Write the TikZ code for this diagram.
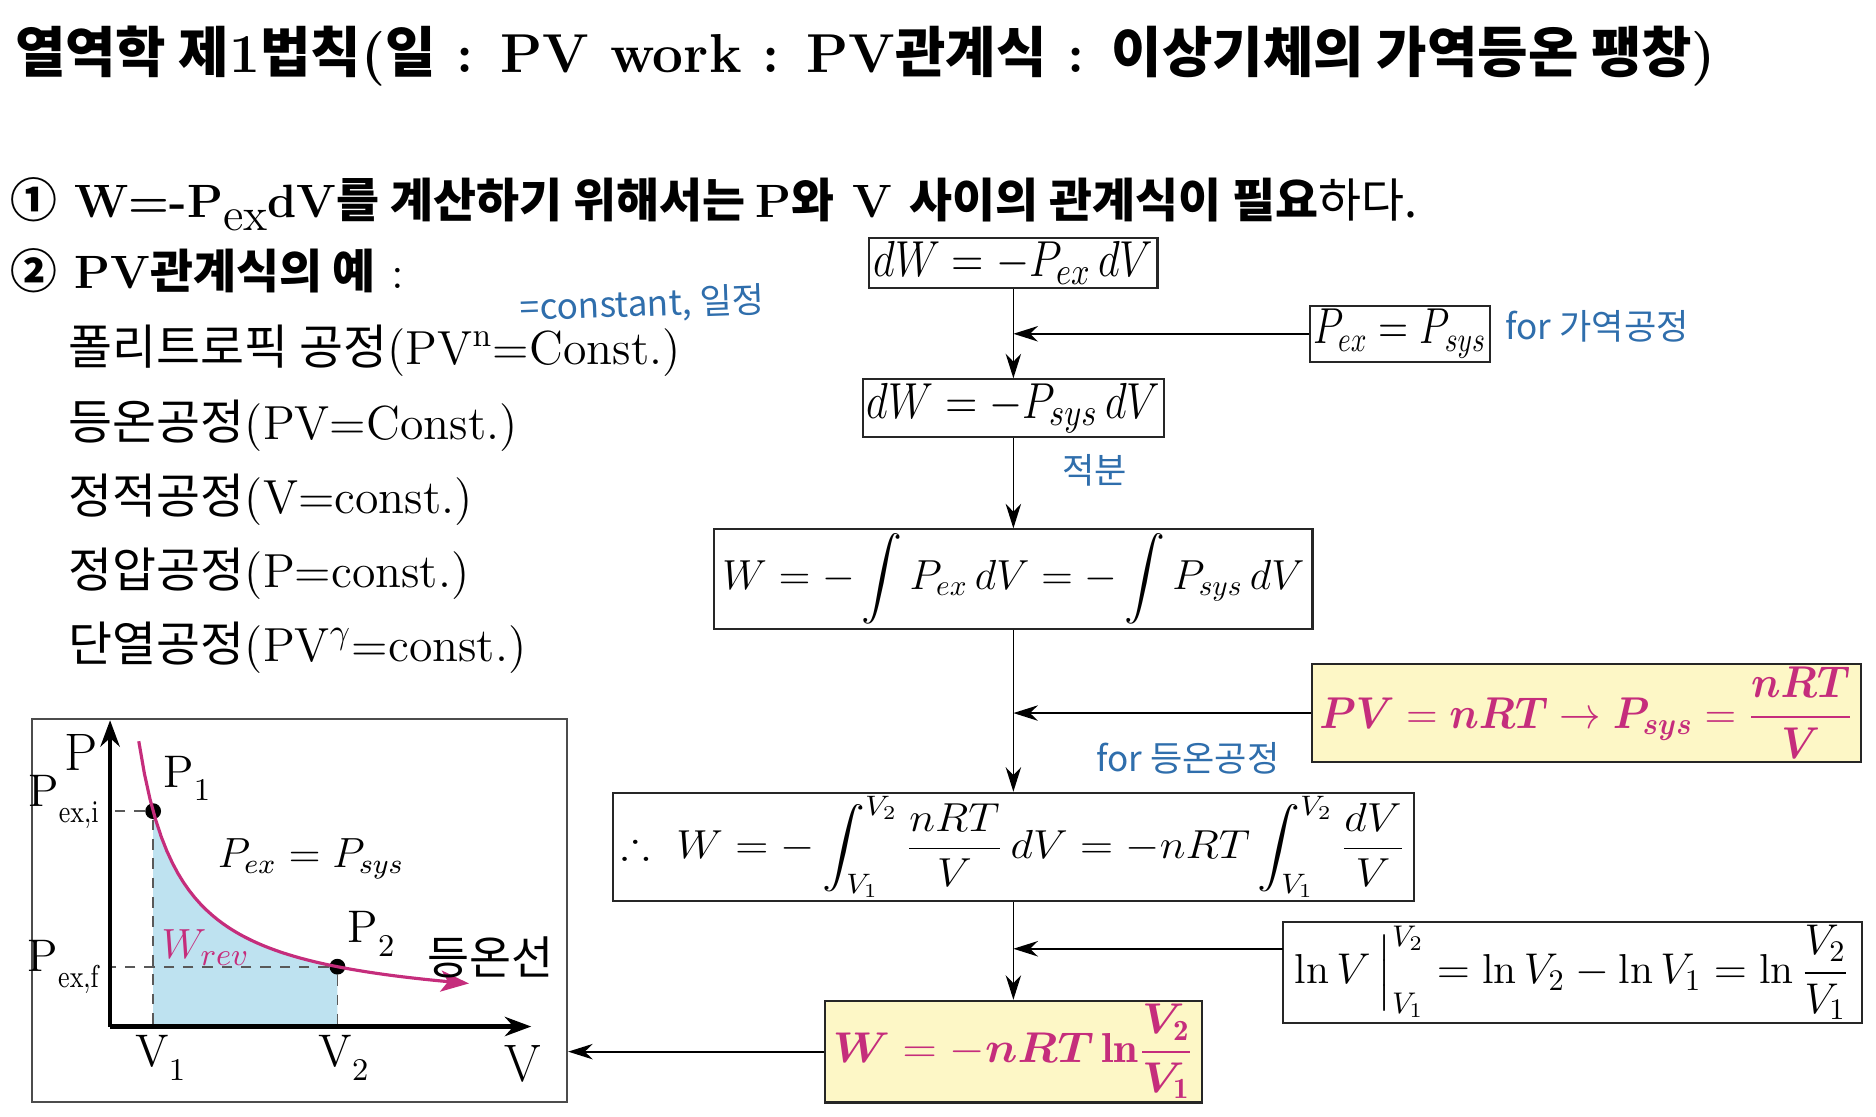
\documentclass[tikz,border=0pt]{standalone}
\usepackage{amsmath,amssymb}
\usepackage{fontspec}
\newfontfamily\kr{Noto Sans CJK KR}
\usetikzlibrary{arrows.meta}
\definecolor{eqmagenta}{HTML}{C52D7C}
\definecolor{hiyellow}{HTML}{FDF7C6}
\definecolor{noteblue}{HTML}{2F6EAC}
\definecolor{areablue}{HTML}{BEE2F0}
\newlength{\pxu}
\setlength{\pxu}{0.11964mm}
\DeclareMathAlphabet{\mathbfit}{OML}{cmm}{b}{it}
\newcommand{\bi}[1]{\mathbfit{#1}}
\newcommand{\squeeze}[3]{\scalebox{#1}[#2]{#3}}

\tikzset{
  eqbox/.style={draw=black!85, line width=0.6pt, inner sep=1pt, font=\fontsize{14}{16}\selectfont},
  hibox/.style={eqbox, fill=hiyellow, text=eqmagenta},
  note/.style={text=noteblue, font=\kr\fontsize{10}{12}\selectfont},
  flow/.style={-{Stealth[length=7pt,width=4.4pt]}, line width=0.5pt},
  axis/.style={-{Stealth[length=7.5pt,width=5.5pt]}, line width=1.2pt},
  guide/.style={black!65, line width=0.5pt, dash pattern=on 3pt off 2.5pt},
  dot/.style={circle, fill=black, inner sep=0pt, minimum size=4.5pt},
  lab/.style={inner sep=1pt, font=\fontsize{13}{15}\selectfont},
}

\begin{document}
\begin{tikzpicture}[x=0.11964mm, y=-0.11964mm, >=stealth]
\useasboundingbox (0,0) rectangle (1568,933);

% heading and left column
\node [anchor=base west, inner sep=0, font=\fontsize{15.6}{18}\selectfont\bfseries] (title) at (12,61)
  {{\kr 열역학 제}1{\kr 법칙}({\kr 일} : PV work : PV{\kr 관계식} : {\kr 이상기체의 가역등온 팽창})};
\node [anchor=base west, inner sep=0, font=\fontsize{13.3}{15}\selectfont\bfseries] (line-1) at (8,182)
  {{\kr ①} W=-P\raisebox{-0.6ex}{\mdseries ex}dV{\kr 를 계산하기 위해서는 }P{\kr 와} V {\kr 사이의 관계식이 필요}{\kr\mdseries 하다.}};
\node [anchor=base west, inner sep=0, font=\fontsize{13.3}{15}\selectfont\bfseries] (line-2) at (8,241)
  {{\kr ②} PV{\kr 관계식의 예}{\mdseries\ :}};

\foreach \txt [count=\i] in {{\kr 폴리트로픽 공정}(PV\textsuperscript{n}=Const.),
    {\kr 등온공정}(PV=Const.), {\kr 정적공정}(V=const.),
    {\kr 정압공정}(P=const.), {\kr 단열공정}(PV\textsuperscript{$\gamma$}=const.)}
  \node [anchor=base west, inner sep=0, font=\fontsize{13.6}{15}\selectfont] (item-\i) at (57,243+\i*62) {\txt};

\node [note, rotate=2] (const-note) at (537,255) {=constant, 일정};

% flow of equations
\node [eqbox, minimum width=241\pxu, minimum height=39\pxu, font=\fontsize{15}{17}\selectfont] (dw-ex) at (847,220)
  {\squeeze{0.84}{1}{$dW = -P_{ex}\,dV$}};
\node [eqbox, minimum width=147\pxu, minimum height=41\pxu] (rev-cond) at (1170,279)
  {\squeeze{0.78}{1}{$P_{ex} = P_{sys}$}};
\node [eqbox, minimum width=241\pxu, minimum height=42\pxu, font=\fontsize{15}{17}\selectfont] (dw-sys) at (847,341)
  {\squeeze{0.84}{1}{$dW = -P_{sys}\,dV$}};
\node [eqbox, minimum width=500\pxu, minimum height=83\pxu] (w-int) at (847,484)
  {\squeeze{0.83}{0.83}{$W = -\displaystyle\int P_{ex}\,dV = -\int P_{sys}\,dV$}};
\node [hibox, minimum width=459\pxu, minimum height=78\pxu] (ideal-gas) at (1326,596)
  {\squeeze{0.82}{0.88}{$\bi{PV} = \bi{nRT} \rightarrow \bi{P}_{\bi{sys}} = \dfrac{\bi{nRT}}{\bi{V}}$}};
\node [eqbox, minimum width=669\pxu, minimum height=90\pxu] (w-iso) at (847,708)
  {\squeeze{0.87}{0.8}{$\therefore\ W = -\displaystyle\int_{V_1}^{V_2}\frac{nRT}{V}\,dV = -nRT\int_{V_1}^{V_2}\frac{dV}{V}$}};
\node [eqbox, minimum width=484\pxu, minimum height=83\pxu] (ln-rule) at (1314,813)
  {\squeeze{0.86}{0.85}{$\ln V\,\Big|_{V_1}^{V_2} = \ln V_2 - \ln V_1 = \ln\dfrac{V_2}{V_1}$}};
\node [hibox, minimum width=315\pxu, minimum height=82\pxu] (w-final) at (847,879)
  {\squeeze{0.9}{0.85}{$\bi{W} = -\bi{nRT}\,\mathbf{ln}\dfrac{\bi{V}_{\mathbf{2}}}{\bi{V}_{\mathbf{1}}}$}};

\node [note, anchor=west] (rev-note) at (1248,273) {for 가역공정};
\node [note] (int-note) at (915,393) {적분};
\node [note] (iso-note) at (993,634) {for 등온공정};

\draw [flow] (dw-ex) -- (dw-sys);
\draw [flow] (dw-sys) -- (w-int);
\draw [flow] (w-int) -- (w-iso);
\draw [flow] (w-iso) -- (w-final);
\draw [flow] (rev-cond.west) -- (rev-cond.west -| dw-ex.south);
\draw [flow] (ideal-gas.west) -- (ideal-gas.west -| w-int.south);
\coordinate (ln-in) at (1072,793);
\draw [flow] (ln-in) -- (ln-in -| w-iso.south);

% P-V graph
\node [draw=black!70, line width=0.6pt, inner sep=0, minimum width=447\pxu, minimum height=320\pxu] (pv-frame) at (250.5,761) {};
\draw [flow] (w-final.west) -- (w-final.west -| pv-frame.east);

\coordinate (o) at (92,858);
\fill [areablue] plot [domain=36:190, samples=40] ({92+\x},{858-7946/(\x+10.85)-10.44}) -- (282,858) -- (128,858) -- cycle;
\node [dot] (p-1) at (128,678) {};
\node [dot] (p-2) at (282,808) {};
\draw [guide] (p-1) -- (p-1 -| o);
\draw [guide] (p-1) -- (p-1 |- o);
\draw [guide] (p-2) -- (p-2 -| o);
\draw [guide] (p-2) -- (p-2 |- o);
\draw [eqmagenta, line width=0.9pt, -{Stealth[length=8pt,width=6pt,inset=2pt]}]
  plot [domain=24:300, samples=60] ({92+\x},{858-7946/(\x+10.85)-10.44});
\draw [axis] (o) -- (92,602);
\draw [axis] (o) -- (444,858);

\node [lab, font=\fontsize{15}{17}\selectfont] (p-axis) at (68,629) {P};
\node [lab, font=\fontsize{15}{17}\selectfont] (v-axis) at (437,889) {V};
\node [lab, anchor=east] (pex-i) at (86,670) {P\raisebox{-0.8ex}{\squeeze{0.8}{1}{\small ex,i}}};
\node [lab, anchor=east] (pex-f) at (86,808) {P\raisebox{-0.8ex}{\squeeze{0.8}{1}{\small ex,f}}};
\node [lab, anchor=south west] (p-1-lab) at (p-1.north east) {P\raisebox{-0.7ex}{\small 1}};
\node [lab, anchor=south west] (p-2-lab) at (p-2.north east) {P\raisebox{-0.7ex}{\small 2}};
\node [lab] (v-1) at (134,884) {V\raisebox{-0.7ex}{\small 1}};
\node [lab] (v-2) at (287,884) {V\raisebox{-0.7ex}{\small 2}};
\node [lab, font=\fontsize{12}{14}\selectfont] (eq-lab) at (260,718) {$P_{ex} = P_{sys}$};
\node [lab, text=eqmagenta] (w-rev) at (172,792) {$W_{rev}$};
\node [lab, font=\kr\fontsize{13}{15}\selectfont] (iso-line) at (410,800) {등온선};

\end{tikzpicture}
\end{document}
